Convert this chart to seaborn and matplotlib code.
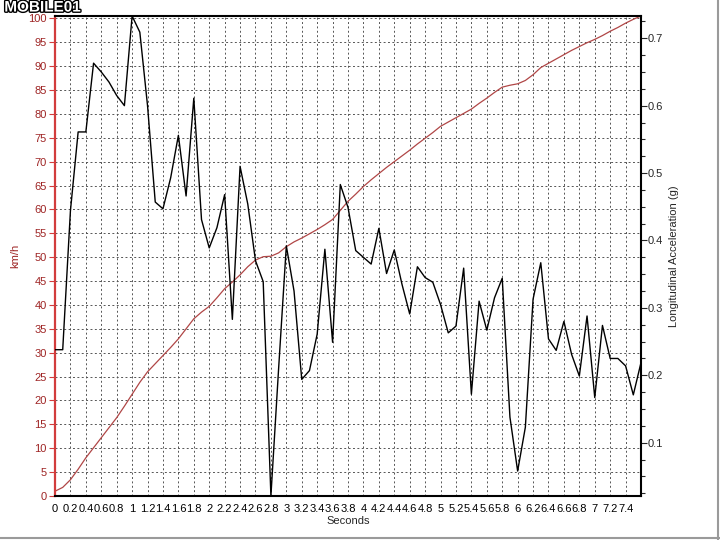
import numpy as np
import pandas as pd
import seaborn as sns
import matplotlib.pyplot as plt
import matplotlib.patheffects as pe
from matplotlib.lines import Line2D
from matplotlib.ticker import FixedLocator, MultipleLocator, FuncFormatter

sns.set_style('white')
plt.rcParams['font.family'] = ['Liberation Sans', 'DejaVu Sans']

# run data, sampled every 0.1 s
seconds = [0.0, 0.1, 0.2, 0.3, 0.4, 0.5, 0.6, 0.7, 0.8, 0.9,
           1.0, 1.1, 1.2, 1.3, 1.4, 1.5, 1.6, 1.7, 1.8, 1.9,
           2.0, 2.1, 2.2, 2.3, 2.4, 2.5, 2.6, 2.7, 2.8, 2.9,
           3.0, 3.1, 3.2, 3.3, 3.4, 3.5, 3.6, 3.7, 3.8, 3.9,
           4.0, 4.1, 4.2, 4.3, 4.4, 4.5, 4.6, 4.7, 4.8, 4.9,
           5.0, 5.1, 5.2, 5.3, 5.4, 5.5, 5.6, 5.7, 5.8, 5.9,
           6.0, 6.1, 6.2, 6.3, 6.4, 6.5, 6.6, 6.7, 6.8, 6.9,
           7.0, 7.1, 7.2, 7.3, 7.4, 7.5, 7.6]

speed_kmh = [1.0, 1.8, 3.4, 5.6, 8.0, 10.1, 12.2, 14.3, 16.4, 18.8,
             21.3, 23.8, 26.0, 27.7, 29.4, 31.1, 32.9, 35.0, 37.1, 38.5,
             39.7, 41.5, 43.4, 44.8, 46.3, 48.0, 49.4, 50.1, 50.2, 50.9,
             52.2, 53.2, 54.0, 54.9, 55.8, 56.8, 57.9, 59.8, 61.7, 63.2,
             64.8, 66.2, 67.5, 68.8, 70.0, 71.2, 72.4, 73.7, 74.9, 76.1,
             77.4, 78.3, 79.2, 80.1, 81.0, 82.2, 83.3, 84.5, 85.6, 86.0,
             86.3, 87.0, 88.2, 89.7, 90.6, 91.5, 92.4, 93.3, 94.1, 94.9,
             95.6, 96.4, 97.3, 98.1, 99.0, 99.8, 100.5]

accel_g = [0.238, 0.238, 0.444, 0.561, 0.561, 0.663, 0.650, 0.635, 0.615, 0.600,
           0.733, 0.709, 0.600, 0.457, 0.447, 0.493, 0.556, 0.466, 0.611, 0.431,
           0.389, 0.419, 0.468, 0.283, 0.510, 0.454, 0.370, 0.339, 0.021, 0.210,
           0.392, 0.325, 0.194, 0.207, 0.261, 0.387, 0.249, 0.483, 0.449, 0.385,
           0.375, 0.365, 0.418, 0.351, 0.386, 0.335, 0.291, 0.361, 0.345, 0.338,
           0.305, 0.263, 0.273, 0.359, 0.172, 0.310, 0.267, 0.315, 0.344, 0.138,
           0.058, 0.123, 0.313, 0.367, 0.254, 0.237, 0.280, 0.231, 0.199, 0.288,
           0.167, 0.274, 0.225, 0.225, 0.214, 0.171, 0.219]

df = pd.DataFrame({'seconds': seconds, 'speed': speed_kmh, 'accel': accel_g})

red_axis = '#d23c3c'
red_text = '#9e2424'

fig = plt.figure(figsize=(7.2, 5.4), dpi=100)
ax = fig.add_axes([0.0764, 0.0815, 0.8139, 0.8889])
ax2 = ax.twinx()

sns.lineplot(data=df, x='seconds', y='speed', ax=ax, color='#b04646', linewidth=0.9)
sns.lineplot(data=df, x='seconds', y='accel', ax=ax2, color='black', linewidth=1.0)

ax.set_xlim(0, 7.6)
ax.set_ylim(0, max(speed_kmh))
ax2.set_ylim(min(accel_g), max(accel_g))

# x ticks every 0.2 s, last label 7.4
xt = np.round(np.arange(0, 7.5, 0.2), 1)
ax.xaxis.set_major_locator(FixedLocator(xt))
ax.xaxis.set_major_formatter(FuncFormatter(lambda v, p: f'{round(v, 1):g}'))
ax.yaxis.set_major_locator(MultipleLocator(5))
ax2.yaxis.set_major_locator(MultipleLocator(0.1))
ax2.yaxis.set_minor_locator(MultipleLocator(0.025))
ax2.yaxis.set_major_formatter(FuncFormatter(lambda v, p: f'{v:.1f}'))

ax.grid(True, which='major', color='#555555', linestyle=(0, (2, 2.5)), linewidth=0.7)
ax.set_axisbelow(True)

ax.tick_params(axis='x', direction='out', length=4, width=0.8, labelsize=8, pad=2, colors='black')
ax.tick_params(axis='y', direction='out', length=4, width=0.8, labelsize=8, pad=2,
               colors=red_axis, labelcolor=red_text)
ax2.tick_params(axis='y', which='major', direction='out', length=4, width=0.8, labelsize=8, pad=1)
ax2.tick_params(axis='y', which='minor', direction='out', length=3, width=0.8)

for s in ['top', 'bottom']:
    ax.spines[s].set_color('black')
    ax.spines[s].set_linewidth(1.5)
ax.spines['left'].set_color(red_axis)
ax.spines['left'].set_linewidth(1.6)
ax.spines['right'].set_visible(False)
for s in ['left', 'top', 'bottom']:
    ax2.spines[s].set_visible(False)
ax2.spines['right'].set_color('black')
ax2.spines['right'].set_linewidth(1.5)

ax.set_xlabel('Seconds', fontsize=8, labelpad=1)
ax.set_ylabel('km/h', fontsize=8, color=red_text, labelpad=6)
ax2.set_ylabel('Longitudinal Acceleration (g)', fontsize=8, labelpad=4)

# site logo and window frame of the screenshot
fig.text(0.006, 0.999, 'MOBILE01', fontsize=11, fontweight='bold', color='white',
         ha='left', va='top', zorder=10,
         path_effects=[pe.withStroke(linewidth=2.0, foreground='black')])
fig.add_artist(Line2D([0, 1], [0.003, 0.003], color='#9a9a9a', linewidth=1.5))
fig.add_artist(Line2D([0.997, 0.997], [0, 1], color='#9a9a9a', linewidth=1.5))

fig.savefig('out.png', dpi=100)
